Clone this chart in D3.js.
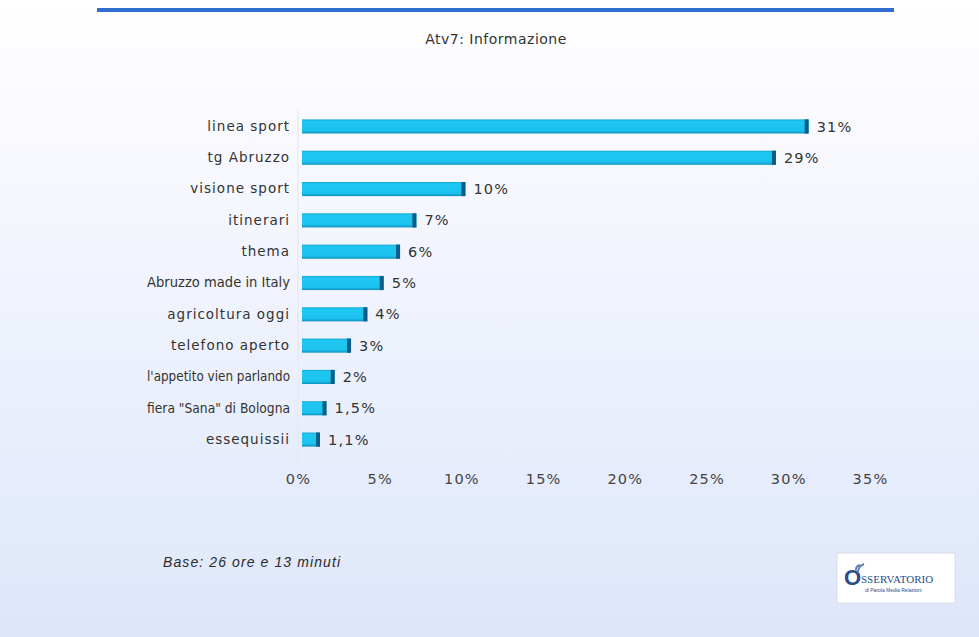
<!doctype HTML>
<html>
<head>
    <script src="https://d3js.org/d3.v7.min.js"></script>
    <style>
        body { margin: 0; }
    </style>
</head>
<body>
<script>

    // data
    var programmes = ["linea sport", "tg Abruzzo", "visione sport", "itinerari", "thema",
        "Abruzzo made in Italy", "agricoltura oggi", "telefono aperto",
        "l'appetito vien parlando", "fiera \"Sana\" di Bologna", "essequissii"];
    var shares = [31, 29, 10, 7, 6, 5, 4, 3, 2, 1.5, 1.1];
    var shareLabels = ["31%", "29%", "10%", "7%", "6%", "5%", "4%", "3%", "2%", "1,5%", "1,1%"];
    var ticks = [0, 5, 10, 15, 20, 25, 30, 35];

    var W = 979, H = 637;
    var margin = {top: 110, left: 298};

    var svg = d3.select("body")
        .append("svg")
        .attr("width", W)
        .attr("height", H);

    // background gradient
    var defs = svg.append("defs");
    var bg = defs.append("linearGradient")
        .attr("id", "bg")
        .attr("x1", 0).attr("y1", 0).attr("x2", 0).attr("y2", 1);
    bg.append("stop").attr("offset", "0%").attr("stop-color", "#ffffff");
    bg.append("stop").attr("offset", "15%").attr("stop-color", "#fbfbff");
    bg.append("stop").attr("offset", "100%").attr("stop-color", "#dde6fa");

    var barGrad = defs.append("linearGradient")
        .attr("id", "bar")
        .attr("x1", 0).attr("y1", 0).attr("x2", 0).attr("y2", 1);
    barGrad.append("stop").attr("offset", "0%").attr("stop-color", "#16a9d4");
    barGrad.append("stop").attr("offset", "15%").attr("stop-color", "#1ec8f2");
    barGrad.append("stop").attr("offset", "80%").attr("stop-color", "#1cc2ee");
    barGrad.append("stop").attr("offset", "100%").attr("stop-color", "#0e8fbd");

    svg.append("rect")
        .attr("width", W).attr("height", H)
        .attr("fill", "url(#bg)");

    // top blue rule
    svg.append("rect")
        .attr("x", 97).attr("y", 8)
        .attr("width", 797).attr("height", 4)
        .attr("fill", "#2f6fd0");

    svg.append("text")
        .attr("x", 496)
        .attr("y", 44)
        .attr("text-anchor", "middle")
        .attr("font-family", "DejaVu Sans")
        .attr("font-size", "14px")
        .attr("letter-spacing", "0.5px")
        .attr("fill", "#333")
        .text("Atv7: Informazione");

    var g = svg.append("g")
        .attr("transform", "translate(" + margin.left + "," + margin.top + ")");

    var x = d3.scaleLinear().domain([0, 35]).range([0, 572]);
    var y = d3.scaleBand().domain(programmes).range([0, 346]).paddingInner(0.55).paddingOuter(0.3);

    // axes
    g.append("line")
        .attr("x1", 0).attr("x2", 0)
        .attr("y1", 0).attr("y2", 352)
        .attr("stroke", "#e4e6ee");
    g.append("line")
        .attr("x1", 0).attr("x2", x(32))
        .attr("y1", 352).attr("y2", 352)
        .attr("stroke", "#e8ecf8");

    var xAxis = g.append("g")
        .attr("transform", "translate(0,352)")
        .call(d3.axisBottom(x).tickValues(ticks).tickSize(0).tickPadding(12)
            .tickFormat(function(d) { return d + "%"; }));
    xAxis.select(".domain").remove();
    xAxis.selectAll("text")
        .attr("font-family", "DejaVu Sans")
        .attr("font-size", "14.5px")
        .attr("letter-spacing", "1.2px")
        .attr("fill", "#444");

    var yAxis = g.append("g")
        .call(d3.axisLeft(y).tickSize(0).tickPadding(8));
    yAxis.select(".domain").remove();
    yAxis.selectAll("text")
        .attr("font-family", "DejaVu Sans")
        .attr("font-size", "13.5px")
        .attr("letter-spacing", "1px")
        .attr("fill", "#333")
        .each(function() {
            // long labels are squeezed to fit, like in the original
            var w = this.getComputedTextLength();
            if (w > 143) {
                d3.select(this)
                    .attr("letter-spacing", null)
                    .attr("textLength", 143)
                    .attr("lengthAdjust", "spacingAndGlyphs");
            }
        });

    // bars
    var bars = g.selectAll(".bar")
        .data(programmes)
        .enter().append("g")
        .attr("class", "bar");

    bars.append("rect")
        .attr("x", 4)
        .attr("y", function(d) { return y(d); })
        .attr("width", function(d, i) { return x(shares[i]); })
        .attr("height", y.bandwidth())
        .attr("fill", "url(#bar)");

    // dark end cap
    bars.append("rect")
        .attr("x", function(d, i) { return 4 + x(shares[i]) - 4; })
        .attr("y", function(d) { return y(d); })
        .attr("width", 4)
        .attr("height", y.bandwidth())
        .attr("fill", "#0b5c86");

    bars.append("text")
        .attr("x", function(d, i) { return 4 + x(shares[i]) + 8; })
        .attr("y", function(d) { return y(d) + y.bandwidth() / 2; })
        .attr("dy", "0.35em")
        .attr("font-family", "DejaVu Sans")
        .attr("font-size", "14.5px")
        .attr("letter-spacing", "1.2px")
        .attr("fill", "#333")
        .text(function(d, i) { return shareLabels[i]; });

    // footnote
    svg.append("text")
        .attr("x", 163)
        .attr("y", 567)
        .attr("font-family", "Liberation Sans")
        .attr("font-style", "italic")
        .attr("font-size", "14px")
        .attr("letter-spacing", "1.1px")
        .attr("fill", "#2a2a2a")
        .text("Base: 26 ore e 13 minuti");

    // logo box
    var logo = svg.append("g").attr("transform", "translate(837,553)");
    logo.append("rect")
        .attr("width", 118).attr("height", 50)
        .attr("fill", "#ffffff")
        .attr("stroke", "#d6dbe6");
    logo.append("text")
        .attr("x", 7).attr("y", 32)
        .attr("font-family", "Liberation Sans")
        .attr("font-size", "22px")
        .attr("font-weight", "bold")
        .attr("fill", "#2a4d8a")
        .text("O");
    logo.append("path")
        .attr("d", "M19,17 a5,5 0 0,1 4,-5 M21,20 a9,9 0 0,1 6,-9")
        .attr("fill", "none")
        .attr("stroke", "#5a7ec0")
        .attr("stroke-width", 2);
    logo.append("text")
        .attr("x", 24).attr("y", 30)
        .attr("font-family", "Liberation Serif")
        .attr("font-size", "11px")
        .attr("fill", "#2a4d8a")
        .text("SSERVATORIO");
    logo.append("text")
        .attr("x", 28).attr("y", 39)
        .attr("font-family", "Liberation Sans")
        .attr("font-size", "5px")
        .attr("fill", "#2a4d8a")
        .text("di Parola  Media Relazioni");

</script>
</body>
</html>
